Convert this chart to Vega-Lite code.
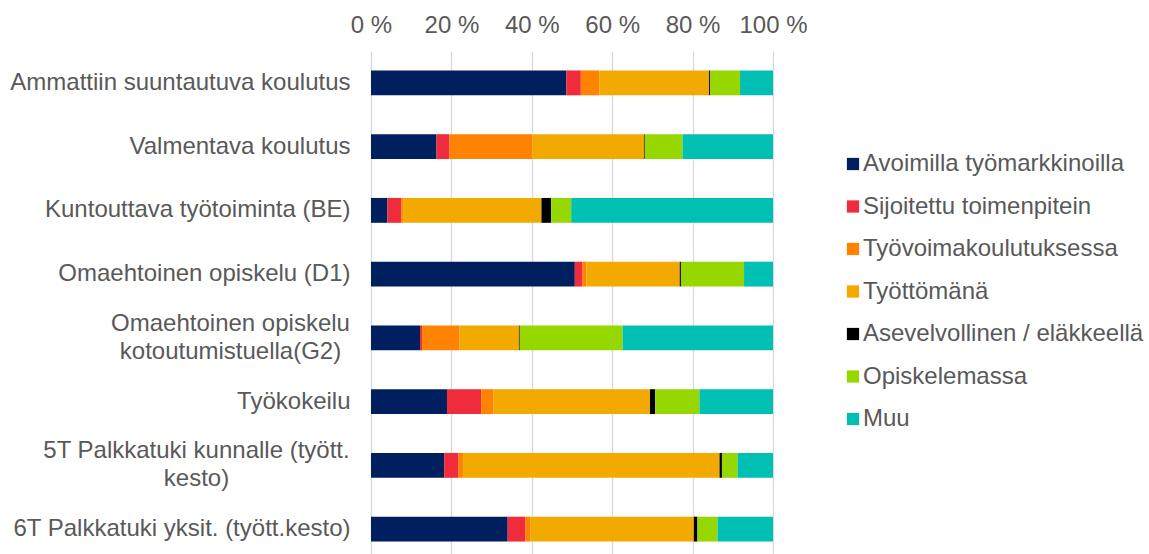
{
  "$schema": "https://vega.github.io/schema/vega-lite/v6.json",
  "width": 402,
  "height": 510,
  "autosize": {"type": "none"},
  "padding": {"left": 371, "top": 51, "right": 376, "bottom": 0},
  "background": "white",
  "config": {
    "view": {"stroke": null},
    "font": "Liberation Sans",
    "axis": {"labelFont": "Liberation Sans", "labelColor": "#595959", "labelFontSize": 24}
  },
  "data": {
    "values": [
      {"k": "Ammattiin suuntautuva koulutus", "s": "Avoimilla työmarkkinoilla", "v": 48.6},
      {"k": "Ammattiin suuntautuva koulutus", "s": "Sijoitettu toimenpitein", "v": 3.6},
      {"k": "Ammattiin suuntautuva koulutus", "s": "Työvoimakoulutuksessa", "v": 4.6},
      {"k": "Ammattiin suuntautuva koulutus", "s": "Työttömänä", "v": 27.3},
      {"k": "Ammattiin suuntautuva koulutus", "s": "Asevelvollinen / eläkkeellä", "v": 0.3},
      {"k": "Ammattiin suuntautuva koulutus", "s": "Opiskelemassa", "v": 7.4},
      {"k": "Ammattiin suuntautuva koulutus", "s": "Muu", "v": 8.2},
      {"k": "Valmentava koulutus", "s": "Avoimilla työmarkkinoilla", "v": 16.3},
      {"k": "Valmentava koulutus", "s": "Sijoitettu toimenpitein", "v": 3.2},
      {"k": "Valmentava koulutus", "s": "Työvoimakoulutuksessa", "v": 20.6},
      {"k": "Valmentava koulutus", "s": "Työttömänä", "v": 27.8},
      {"k": "Valmentava koulutus", "s": "Asevelvollinen / eläkkeellä", "v": 0.2},
      {"k": "Valmentava koulutus", "s": "Opiskelemassa", "v": 9.4},
      {"k": "Valmentava koulutus", "s": "Muu", "v": 22.5},
      {"k": "Kuntouttava työtoiminta (BE)", "s": "Avoimilla työmarkkinoilla", "v": 4.1},
      {"k": "Kuntouttava työtoiminta (BE)", "s": "Sijoitettu toimenpitein", "v": 3.4},
      {"k": "Kuntouttava työtoiminta (BE)", "s": "Työvoimakoulutuksessa", "v": 0.5},
      {"k": "Kuntouttava työtoiminta (BE)", "s": "Työttömänä", "v": 34.4},
      {"k": "Kuntouttava työtoiminta (BE)", "s": "Asevelvollinen / eläkkeellä", "v": 2.4},
      {"k": "Kuntouttava työtoiminta (BE)", "s": "Opiskelemassa", "v": 5.0},
      {"k": "Kuntouttava työtoiminta (BE)", "s": "Muu", "v": 50.2},
      {"k": "Omaehtoinen opiskelu (D1)", "s": "Avoimilla työmarkkinoilla", "v": 50.7},
      {"k": "Omaehtoinen opiskelu (D1)", "s": "Sijoitettu toimenpitein", "v": 1.9},
      {"k": "Omaehtoinen opiskelu (D1)", "s": "Työvoimakoulutuksessa", "v": 1.0},
      {"k": "Omaehtoinen opiskelu (D1)", "s": "Työttömänä", "v": 23.2},
      {"k": "Omaehtoinen opiskelu (D1)", "s": "Asevelvollinen / eläkkeellä", "v": 0.3},
      {"k": "Omaehtoinen opiskelu (D1)", "s": "Opiskelemassa", "v": 15.7},
      {"k": "Omaehtoinen opiskelu (D1)", "s": "Muu", "v": 7.2},
      {"k": "Omaehtoinen opiskelu|kotoutumistuella(G2)", "s": "Avoimilla työmarkkinoilla", "v": 12.2},
      {"k": "Omaehtoinen opiskelu|kotoutumistuella(G2)", "s": "Sijoitettu toimenpitein", "v": 0.5},
      {"k": "Omaehtoinen opiskelu|kotoutumistuella(G2)", "s": "Työvoimakoulutuksessa", "v": 9.3},
      {"k": "Omaehtoinen opiskelu|kotoutumistuella(G2)", "s": "Työttömänä", "v": 14.8},
      {"k": "Omaehtoinen opiskelu|kotoutumistuella(G2)", "s": "Asevelvollinen / eläkkeellä", "v": 0.2},
      {"k": "Omaehtoinen opiskelu|kotoutumistuella(G2)", "s": "Opiskelemassa", "v": 25.6},
      {"k": "Omaehtoinen opiskelu|kotoutumistuella(G2)", "s": "Muu", "v": 37.4},
      {"k": "Työkokeilu", "s": "Avoimilla työmarkkinoilla", "v": 18.9},
      {"k": "Työkokeilu", "s": "Sijoitettu toimenpitein", "v": 8.5},
      {"k": "Työkokeilu", "s": "Työvoimakoulutuksessa", "v": 3.1},
      {"k": "Työkokeilu", "s": "Työttömänä", "v": 38.9},
      {"k": "Työkokeilu", "s": "Asevelvollinen / eläkkeellä", "v": 1.3},
      {"k": "Työkokeilu", "s": "Opiskelemassa", "v": 11.0},
      {"k": "Työkokeilu", "s": "Muu", "v": 18.3},
      {"k": "5T Palkkatuki kunnalle (tyött.|kesto)", "s": "Avoimilla työmarkkinoilla", "v": 18.2},
      {"k": "5T Palkkatuki kunnalle (tyött.|kesto)", "s": "Sijoitettu toimenpitein", "v": 3.5},
      {"k": "5T Palkkatuki kunnalle (tyött.|kesto)", "s": "Työvoimakoulutuksessa", "v": 1.2},
      {"k": "5T Palkkatuki kunnalle (tyött.|kesto)", "s": "Työttömänä", "v": 63.8},
      {"k": "5T Palkkatuki kunnalle (tyött.|kesto)", "s": "Asevelvollinen / eläkkeellä", "v": 0.6},
      {"k": "5T Palkkatuki kunnalle (tyött.|kesto)", "s": "Opiskelemassa", "v": 3.9},
      {"k": "5T Palkkatuki kunnalle (tyött.|kesto)", "s": "Muu", "v": 8.8},
      {"k": "6T Palkkatuki yksit. (tyött.kesto)", "s": "Avoimilla työmarkkinoilla", "v": 34.0},
      {"k": "6T Palkkatuki yksit. (tyött.kesto)", "s": "Sijoitettu toimenpitein", "v": 4.4},
      {"k": "6T Palkkatuki yksit. (tyött.kesto)", "s": "Työvoimakoulutuksessa", "v": 1.2},
      {"k": "6T Palkkatuki yksit. (tyött.kesto)", "s": "Työttömänä", "v": 40.7},
      {"k": "6T Palkkatuki yksit. (tyött.kesto)", "s": "Asevelvollinen / eläkkeellä", "v": 0.9},
      {"k": "6T Palkkatuki yksit. (tyött.kesto)", "s": "Opiskelemassa", "v": 5.0},
      {"k": "6T Palkkatuki yksit. (tyött.kesto)", "s": "Muu", "v": 13.8}
    ]
  },
  "transform": [
    {"calculate": "indexof(['Avoimilla työmarkkinoilla', 'Sijoitettu toimenpitein', 'Työvoimakoulutuksessa', 'Työttömänä', 'Asevelvollinen / eläkkeellä', 'Opiskelemassa', 'Muu'], datum.s)", "as": "ord"}
  ],
  "mark": {"type": "bar"},
  "encoding": {
    "y": {
      "field": "k",
      "type": "nominal",
      "sort": null,
      "scale": {"paddingInner": 0.61, "paddingOuter": 0.305},
      "axis": {
        "title": null,
        "domain": false,
        "ticks": false,
        "labelLimit": 500,
        "labelLineHeight": 28,
        "labelPadding": 21,
        "labelExpr": "split(datum.label, '|')",
        "encoding": {
          "labels": {
            "align": {"condition": {"test": "indexof(datum.value, '|') >= 0", "value": "center"}, "value": "right"},
            "dx": {"condition": [
              {"test": "datum.value == 'Omaehtoinen opiskelu|kotoutumistuella(G2)'", "value": -120},
              {"test": "datum.value == '5T Palkkatuki kunnalle (tyött.|kesto)'", "value": -154}
            ], "value": 0},
            "dy": {"condition": {"test": "indexof(datum.value, '|') >= 0", "value": -14}, "value": 0}
          }
        }
      }
    },
    "x": {
      "field": "v",
      "type": "quantitative",
      "stack": "zero",
      "scale": {"domain": [0, 100], "nice": false},
      "axis": {
        "orient": "top",
        "title": null,
        "domain": false,
        "ticks": false,
        "values": [0, 20, 40, 60, 80, 100],
        "labelExpr": "datum.value + ' %'",
        "labelPadding": 14,
        "labelFlush": false,
        "labelOverlap": false,
        "grid": true,
        "gridColor": "#d9d9d9",
        "gridWidth": 1.3
      }
    },
    "order": {"field": "ord", "type": "quantitative"},
    "color": {
      "field": "s",
      "type": "nominal",
      "sort": ["Avoimilla työmarkkinoilla", "Sijoitettu toimenpitein", "Työvoimakoulutuksessa", "Työttömänä", "Asevelvollinen / eläkkeellä", "Opiskelemassa", "Muu"],
      "scale": {
        "domain": ["Avoimilla työmarkkinoilla", "Sijoitettu toimenpitein", "Työvoimakoulutuksessa", "Työttömänä", "Asevelvollinen / eläkkeellä", "Opiskelemassa", "Muu"],
        "range": ["#001F5F", "#EF2B3C", "#FF8200", "#F2A900", "#000000", "#97D700", "#00BFB3"]
      },
      "legend": {
        "title": null,
        "orient": "none",
        "legendX": 470,
        "legendY": 101,
        "padding": 0,
        "symbolType": "square",
        "symbolSize": 150,
        "symbolStrokeWidth": 0,
        "labelFont": "Liberation Sans",
        "labelFontSize": 24,
        "labelColor": "#595959",
        "labelOffset": -2,
        "labelLimit": 400,
        "rowPadding": 18.5
      }
    }
  }
}
